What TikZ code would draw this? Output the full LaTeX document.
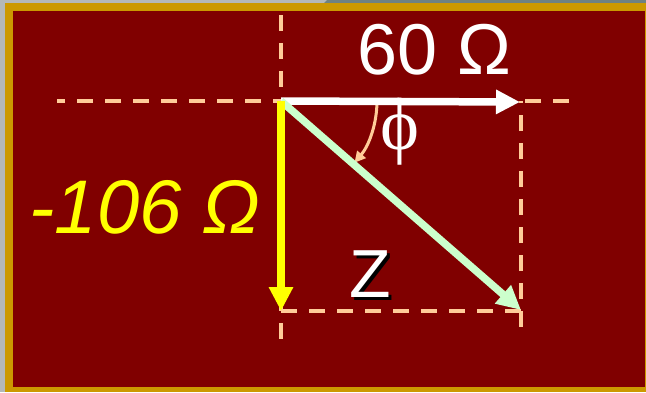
\documentclass[tikz,border=0pt]{standalone}
\usepackage{fontspec}
\setmainfont{Liberation Sans}
\newfontfamily\phifont{Liberation Serif}
\usetikzlibrary{arrows.meta}
\definecolor{bgred}{HTML}{800000}
\definecolor{gold}{HTML}{CC9900}
\definecolor{peach}{HTML}{FFCC99}
\definecolor{mint}{HTML}{CCFFCC}
\definecolor{outergrey}{HTML}{B4B8B8}
\definecolor{topgrey}{HTML}{6E8282}
\definecolor{vyellow}{HTML}{FFFF00}
\begin{document}
\begin{tikzpicture}[x=1pt,y=-1pt,
  guide/.style={draw=peach,line width=4pt,dash pattern=on 16pt off 12pt},
  vec/.style={line width=7.5pt,-{Triangle[length=24pt,width=23pt]}},
  lbl/.style={inner sep=0pt,anchor=base}]
\useasboundingbox (0,0) rectangle (646,392);
\fill[outergrey] (0,0) rectangle (646,392);
\fill[topgrey] (327,0) -- (646,0) -- (646,3) -- (324,3) -- cycle;
\fill[gold] (5,3) rectangle (646,392);
\fill[bgred] (13,11) rectangle (645,387);
% coordinates
\coordinate (O) at (281,101);
\coordinate (topL) at (57,101);
\coordinate (topR) at (569,101);
\coordinate (vTop) at (281,15);
\coordinate (vBot) at (281,339);
\coordinate (R) at (521,101);
\coordinate (Rb) at (521,327);
\coordinate (D) at (281,311);
\coordinate (Dr) at (521,311);
\coordinate (Rtip) at (520,102);
\coordinate (Ztip) at (521,310);
\coordinate (Ytip) at (281,311);
\coordinate (arcS) at (377,101);
% guides
\draw[guide] (topR) -- (topL);
\draw[guide] (vTop) -- (vBot);
\draw[guide] (Rb) -- (R);
\draw[guide] (D) -- (Dr);
% angle arc
\draw[peach,line width=3pt,-{Triangle[length=11pt,width=11pt]}] (arcS) arc[start angle=0,end angle=40,radius=96];
% vectors
\draw[vec,white] (O) -- (Rtip);
\draw[vec,mint] (O) -- (Ztip);
\draw[vec,vyellow] (O) -- (Ytip);
% labels
\node[lbl,white,font=\fontsize{72}{80}\selectfont] (res) at (434,74) {60 Ω};
\node[lbl,vyellow,font=\itshape\fontsize{76}{84}\selectfont] (xc) at (145,233) {-106 Ω};
\node[lbl,white,font=\fontsize{68}{76}\selectfont] (z) at (370,297)
  {\rlap{\kern3pt\raisebox{-3pt}{\textcolor{black}{Z}}}Z};
\node[lbl,white,font=\phifont\fontsize{74}{80}\selectfont] (phi) at (400,149) {ϕ};
\end{tikzpicture}
\end{document}
